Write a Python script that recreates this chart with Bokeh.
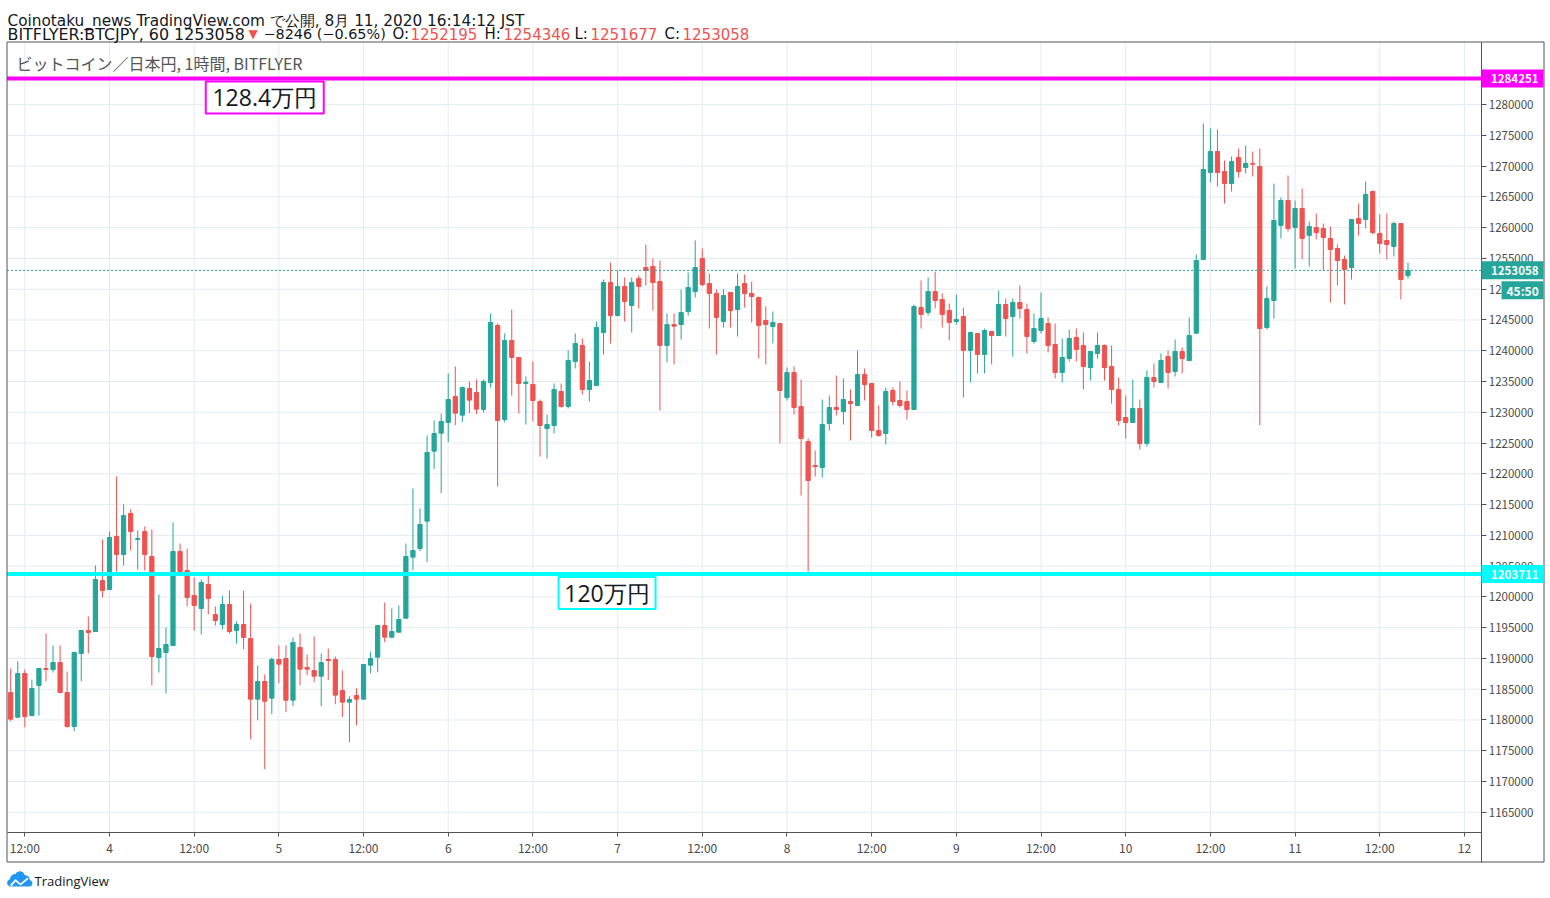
import numpy as np
import pandas as pd
from bokeh.plotting import figure
from bokeh.models import (FixedTicker, NumeralTickFormatter, Label, BoxAnnotation,
                          PolyAnnotation, ColumnDataSource, Range1d, LinearAxis)
from bokeh.embed import file_html
from bokeh.resources import INLINE

# ---------------- data (BITFLYER BTC/JPY, 1h candles) ----------------
first_bar = "2020-08-03 10:00"
opens = [1184460,1180450,1187550,1180720,1185600,1188360,1188200,1189330,1184460,1178930,
         1190800,1194530,1194370,1202660,1201200,1209810,1206890,1213550,1209320,1210620,
         1206560,1190150,1190960,1192100,1207370,1204290,1200220,1198110,1202010,1197130,
         1195510,1198760,1194530,1195510,1193230,1183380,1186250,1183540,1189820,1189980,
         1183210,1191770,1188520,1188030,1187110,1189820,1189820,1184780,1182890,1183970,
         1183380,1188900,1190200,1195350,1193450,1194260,1196540,1206450,1207860,1212300,
         1223680,1226600,1228340,1232560,1229530,1233860,1233210,1230450,1234830,1244100,
         1228820,1241660,1238900,1234670,1234510,1231750,1227360,1227850,1233370,1230930,
         1238250,1240850,1233700,1234350,1242960,1251090,1245720,1250440,1247350,1251740,
         1253520,1253690,1251250,1240850,1244260,1244260,1246370,1249620,1254990,1250920,
         1249300,1244750,1249460,1246700,1250920,1249300,1248650,1244910,1243940,1244420,
         1232400,1236460,1230940,1225250,1221350,1221020,1228170,1230770,1230120,1231750,
         1231100,1236140,1234670,1227030,1226550,1233540,1231910,1231750,1230450,1247020,
         1246210,1249620,1248320,1246540,1244750,1245560,1240040,1242800,1239390,1243120,
         1242470,1247510,1245560,1247840,1246700,1241500,1243290,1244420,1241010,1236460,
         1238740,1242150,1240850,1237270,1239550,1240850,1237440,1233700,1229150,1228330,
         1230610,1224920,1235650,1234840,1239060,1236620,1239870,1238410,1242850,1254820,
         1268960,1272370,1269120,1267170,1271400,1269770,1270420,1269940,1243770,1248160,
         1260350,1264410,1260020,1263110,1258720,1260020,1259860,1258240,1256610,1254820,
         1253520,1261490,1261320,1265870,1259050,1257910,1256940,1260670,1252195]
highs = [1188360,1189500,1188200,1186570,1188450,1194050,1192100,1192100,1187870,1191120,
         1194600,1196810,1205100,1209320,1210620,1219560,1215010,1214200,1210790,1211440,
         1210950,1200390,1195020,1212090,1208670,1207860,1203150,1202820,1203470,1198440,
         1200220,1201040,1196000,1201040,1198920,1188850,1187380,1190150,1192100,1192100,
         1193400,1194050,1190630,1193560,1190800,1191610,1190310,1188030,1183860,1185160,
         1189010,1191120,1195350,1199080,1198110,1198600,1208670,1217610,1214360,1226220,
         1228660,1229800,1236300,1237440,1234190,1235000,1235320,1235320,1246050,1244420,
         1242800,1246700,1238950,1235810,1238250,1232070,1229630,1234670,1234670,1240040,
         1242800,1241990,1238250,1244750,1251570,1254340,1253040,1251900,1251900,1252220,
         1257260,1254990,1254660,1246050,1246050,1249950,1252710,1257910,1256610,1252550,
         1249950,1249950,1249500,1252550,1252390,1251250,1248810,1247190,1246370,1244450,
         1237270,1237440,1235320,1225730,1223780,1232070,1232720,1235970,1235490,1233700,
         1240040,1237110,1234700,1231100,1234020,1234020,1235000,1233540,1247510,1251410,
         1251900,1252870,1249300,1247670,1249140,1247020,1243120,1242850,1243610,1243150,
         1249790,1248490,1248490,1250600,1247670,1246050,1249460,1245400,1244420,1241990,
         1243450,1243610,1242960,1239900,1242960,1241010,1240850,1235650,1232720,1235320,
         1232070,1236790,1237920,1239550,1240040,1241820,1240520,1245400,1255640,1276920,
         1276110,1275950,1270910,1271560,1272860,1273350,1272370,1272860,1250430,1267170,
         1264900,1268470,1264410,1266360,1261000,1262300,1260670,1260190,1257260,1255470,
         1261350,1263920,1267500,1266040,1262140,1262300,1261000,1260700,1254346]
lows = [1179800,1180300,1178830,1180600,1180720,1186300,1187710,1184400,1178770,1178180,
        1186300,1190800,1194300,1199900,1201100,1204120,1205100,1207540,1204450,1204290,
        1185600,1187710,1184300,1192000,1203740,1198440,1194530,1193880,1197130,1195350,
        1194700,1194050,1192420,1191450,1176870,1179960,1172000,1180940,1185980,1181260,
        1182240,1185650,1187280,1186140,1182240,1186460,1182560,1180450,1176390,1179150,
        1183300,1187600,1187760,1192640,1193290,1194200,1196500,1204340,1207430,1205640,
        1220750,1216850,1225140,1227900,1228390,1229850,1229690,1229960,1234020,1217930,
        1228330,1232720,1229800,1228010,1228500,1222810,1222480,1226550,1230770,1230610,
        1237110,1232880,1231750,1234300,1239390,1241170,1245560,1244750,1242960,1246860,
        1250600,1246540,1230280,1238090,1237760,1241820,1245720,1248650,1250440,1243610,
        1239390,1243770,1243770,1242310,1247020,1244590,1238740,1237760,1241170,1224920,
        1231910,1229630,1216470,1204120,1219560,1219400,1227030,1229470,1228010,1225410,
        1231050,1231910,1225900,1226060,1224760,1231100,1230770,1228820,1230400,1243610,
        1245720,1246860,1243770,1241660,1244260,1232400,1234840,1236300,1236300,1237760,
        1242420,1242310,1239060,1245240,1239550,1241170,1242800,1239710,1235490,1234840,
        1238250,1238250,1233700,1235160,1238740,1235160,1231420,1227850,1225730,1228300,
        1223950,1224430,1234020,1234800,1233860,1235810,1236300,1238380,1242800,1254800,
        1267340,1266690,1263920,1265870,1268150,1268800,1268310,1227850,1243450,1245230,
        1258240,1259370,1253360,1254820,1253680,1258070,1253030,1247830,1250600,1247510,
        1251570,1258720,1259860,1258890,1255800,1254820,1255310,1248320,1251677]
closes = [1180130,1187550,1180560,1185110,1188360,1188200,1189330,1184460,1178930,1190960,
          1194530,1194210,1202820,1201040,1209650,1206890,1213220,1210620,1209490,1206890,
          1190310,1191610,1192260,1207370,1204120,1199900,1198600,1202340,1199740,1196160,
          1198760,1194370,1195510,1193400,1183380,1186250,1183050,1189820,1189060,1183210,
          1192580,1188250,1188250,1187110,1189330,1189660,1184030,1182890,1183320,1183380,
          1189010,1189980,1195350,1193450,1194370,1196320,1206560,1207530,1211760,1223460,
          1226550,1228500,1232070,1229850,1234020,1231970,1230500,1235000,1244590,1228660,
          1241660,1238900,1234670,1234890,1231910,1227850,1228010,1233700,1230930,1238410,
          1241170,1233700,1235160,1243770,1251090,1245720,1250440,1248000,1251090,1250440,
          1253040,1251090,1240850,1244260,1243990,1246210,1250270,1253520,1250760,1249300,
          1245400,1248970,1246540,1250440,1249300,1248810,1244100,1244260,1244590,1233540,
          1236460,1230770,1225730,1218910,1221180,1228010,1230770,1230450,1232070,1231420,
          1236140,1234510,1227030,1226220,1233370,1231750,1231100,1230450,1247190,1245890,
          1249620,1248160,1245890,1244590,1245070,1240040,1242960,1239390,1243290,1242470,
          1247510,1245240,1247840,1246860,1242310,1243610,1245240,1240850,1236460,1238900,
          1241990,1240200,1237440,1239870,1240850,1237270,1233700,1228660,1228330,1230610,
          1224920,1235650,1235000,1238410,1236460,1239870,1238740,1242470,1254660,1269450,
          1272370,1268960,1267170,1270750,1269120,1270420,1270320,1243610,1248480,1261160,
          1264410,1259860,1263110,1258240,1260190,1259210,1258400,1256450,1254660,1253200,
          1261320,1260670,1265390,1259210,1257420,1257260,1260670,1251570,1253058]

tick_times = pd.date_range("2020-08-03 12:00", "2020-08-12 00:00", freq="12h")
tick_labels = ["12:00", "4", "12:00", "5", "12:00", "6", "12:00", "7", "12:00",
               "8", "12:00", "9", "12:00", "10", "12:00", "11", "12:00", "12"]
price_ticks = list(range(1165000, 1285000, 5000))

level_prices = [1284251, 1203711]
level_colors = ["#ff00ff", "#00ffff"]
level_texts = ["128.4万円", "120万円"]
level_text_times = ["2020-08-04 22:00", "2020-08-06 22:30"]

change_text = "\u22128246 (\u22120.65%)"
countdown = "45:50"
header_line1 = "Coinotaku_news TradingView.com で公開, 8月 11, 2020 16:14:12 JST"
symbol_text = "BITFLYER:BTCJPY, 60"
legend_text = "ビットコイン／日本円, 1時間, BITFLYER"

# ---------------- derived ----------------
t0 = pd.Timestamp(first_bar)
n = len(opens)
bars = np.arange(n)
o = np.array(opens); h = np.array(highs); l = np.array(lows); c = np.array(closes)
UP, DOWN = "#26a69a", "#ef5350"
colors = [UP if cc >= oo else DOWN for oo, cc in zip(o, c)]
tick_pos = [float((t - t0) / pd.Timedelta(hours=1)) for t in tick_times]
last_close = closes[-1]

src = ColumnDataSource(dict(x=bars, top=np.maximum(o, c), bottom=np.minimum(o, c),
                            high=h, low=l, color=colors))

# ---------------- layout (pixel calibration of the chart box) ----------------
W, H = 1548, 896
BAR0_PX, PX_PER_BAR = 10.2, 7.057            # screen position of first bar, bar spacing
REF_PRICE, REF_PY, PRICE_PER_PX = 1220000, 473.3, 162.5
BOX_L, BOX_R, BOX_T, BOX_B = 6.5, 1543.5, 41.5, 861.5   # outer chart box
SCALE_X, TIME_Y = 1481, 832                  # price-scale / time-scale separators


def bar_at(px):
    return (px - BAR0_PX) / PX_PER_BAR


def price_at(py):
    return REF_PRICE - (py - REF_PY) * PRICE_PER_PX


BORDER = "#50535e"
AXTEXT = "#4a4a4a"
GRID = "#e3ecf2"
INK = "#131722"

p = figure(width=W, height=H, x_range=Range1d(bar_at(0), bar_at(W)),
           y_range=Range1d(price_at(H), price_at(0)),
           output_backend="svg", toolbar_location=None, title=None,
           x_axis_location=None, y_axis_location=None,
           min_border_left=0, min_border_right=0, min_border_top=0, min_border_bottom=0,
           background_fill_color="white", border_fill_color="white",
           outline_line_color=None)
p.xgrid.visible = False
p.ygrid.visible = False

# grid lines inside the chart area
p.segment(x0=tick_pos, x1=tick_pos, y0=price_at(TIME_Y), y1=price_at(BOX_T),
          line_color=GRID, line_width=1)
p.segment(x0=bar_at(BOX_L), x1=bar_at(SCALE_X), y0=price_ticks, y1=price_ticks,
          line_color=GRID, line_width=1)

# candles
p.segment(x0="x", y0="low", x1="x", y1="high", line_color="color", line_width=1, source=src)
p.vbar(x="x", width=0.6, top="top", bottom="bottom", fill_color="color",
       line_color="color", line_width=1, source=src)

# current price dotted line
p.segment(x0=[bar_at(BOX_L)], x1=[bar_at(SCALE_X)], y0=[last_close], y1=[last_close],
          line_color=UP, line_width=1, line_dash="2 2")

# horizontal levels
for price, col in zip(level_prices, level_colors):
    p.segment(x0=[bar_at(BOX_L)], x1=[bar_at(SCALE_X)], y0=[price], y1=[price],
              line_color=col, line_width=4)

ppp = PRICE_PER_PX
for price, col, txt, tt in zip(level_prices, level_colors, level_texts, level_text_times):
    xb = float((pd.Timestamp(tt) - t0) / pd.Timedelta(hours=1))
    half_w = (59 if len(txt) > 5 else 48.5) / PX_PER_BAR
    p.add_layout(BoxAnnotation(left=xb - half_w, right=xb + half_w,
                               top=price - 3 * ppp, bottom=price - 35 * ppp,
                               fill_color="white", fill_alpha=1.0,
                               line_color=col, line_width=2, line_alpha=1.0))
    p.add_layout(Label(x=xb, y=price - 19 * ppp, text=txt, text_align="center",
                       text_baseline="middle", text_font="Open Sans",
                       text_font_size="23px", text_color=INK))

# price scale (axis fixed at the scale separator, labels to its right)
yax = LinearAxis(fixed_location=bar_at(SCALE_X), bounds=(price_at(BOX_B), price_at(BOX_T)),
                 ticker=FixedTicker(ticks=price_ticks), formatter=NumeralTickFormatter(format="0"),
                 major_tick_in=5, major_tick_out=0, minor_tick_in=0, minor_tick_out=0,
                 major_label_standoff=-52, axis_line_color=BORDER, major_tick_line_color=BORDER,
                 major_label_text_font="Noto Sans CJK JP", major_label_text_font_size="11.5px",
                 major_label_text_color=AXTEXT)
p.add_layout(yax, "left")

# time scale (axis fixed at the time separator, labels below it)
xax = LinearAxis(fixed_location=price_at(TIME_Y), bounds=(bar_at(BOX_L), bar_at(SCALE_X)),
                 ticker=FixedTicker(ticks=tick_pos),
                 major_label_overrides={tp: lab for tp, lab in zip(tick_pos, tick_labels)},
                 major_tick_in=4, major_tick_out=0, minor_tick_in=0, minor_tick_out=0,
                 major_label_standoff=-23, axis_line_color=BORDER, major_tick_line_color=BORDER,
                 major_label_text_font="Noto Sans CJK JP", major_label_text_font_size="12px",
                 major_label_text_color=AXTEXT)
p.add_layout(xax, "above")

# outer chart box
p.add_layout(BoxAnnotation(left=BOX_L, right=BOX_R, top=BOX_T, bottom=BOX_B,
                           left_units="canvas", right_units="canvas",
                           top_units="canvas", bottom_units="canvas",
                           fill_alpha=0, line_color=BORDER, line_width=1, line_alpha=1))


# price tags on the scale
def price_tag(price, col, txt):
    p.add_layout(BoxAnnotation(left=SCALE_X, right=BOX_R - 0.5, left_units="canvas",
                               right_units="canvas", top=price + 9 * ppp, bottom=price - 9 * ppp,
                               fill_color=col, fill_alpha=1.0, line_alpha=0))
    p.add_layout(Label(x=SCALE_X + 9.5, x_units="canvas", y=price, text=txt,
                       text_baseline="middle", text_align="left",
                       text_font="Noto Sans CJK JP", text_font_size="11.5px",
                       text_font_style="bold", text_color="white"))


for price, col in zip(level_prices, level_colors):
    price_tag(price, col, str(price))
price_tag(last_close, UP, str(last_close))
p.add_layout(BoxAnnotation(left=SCALE_X + 20, right=BOX_R - 0.5, top=last_close - 11 * ppp,
                           bottom=last_close - 29 * ppp, left_units="canvas",
                           right_units="canvas", fill_color=UP, fill_alpha=1.0, line_alpha=0))
p.add_layout(Label(x=SCALE_X + 25, x_units="canvas", y=last_close - 20 * ppp, text=countdown,
                   text_baseline="middle", text_font="Noto Sans CJK JP",
                   text_font_size="12px", text_font_style="bold", text_color="white"))


# header texts
def canvas_label(x, y, text, size, color, font="DejaVu Sans", baseline="alphabetic"):
    p.add_layout(Label(x=x, y=y, x_units="canvas", y_units="canvas", text=text,
                       text_font=font, text_font_size=size, text_color=color,
                       text_baseline=baseline))


canvas_label(7, 20.7, header_line1, "15.3px", INK)
line2 = [(symbol_text + " " + str(last_close), 7, INK, "15.9px"),
         ("\u25bc", 248, DOWN, "12px"),
         (change_text, 263, INK, "14.4px"),
         ("O:", 392, INK, "15px"), (str(opens[-1]), 410, DOWN, "15px"),
         ("H:", 484, INK, "15px"), (str(highs[-1]), 503, DOWN, "15px"),
         ("L:", 574, INK, "15px"), (str(lows[-1]), 590, DOWN, "15px"),
         ("C:", 664, INK, "15px"), (str(closes[-1]), 682, DOWN, "15px")]
for txt, x, col, size in line2:
    canvas_label(x, 33.7, txt, size, col)

canvas_label(16, 62, legend_text, "16px", "#555555", font="Noto Sans CJK JP", baseline="middle")

# TradingView logo
cloud_x = [9, 7, 6.5, 7.5, 9.5, 10, 11.5, 13.5, 15, 16, 18, 20, 22, 23.5, 24, 26, 28, 29,
           29.5, 31, 32, 31.5, 30]
cloud_y = [886, 884, 882, 880, 878.5, 876.5, 874.5, 873.5, 873.5, 872, 871, 870.8, 871.5,
           873, 874.5, 875, 876, 878, 879.5, 880.5, 882.5, 884.5, 886]
p.add_layout(PolyAnnotation(xs=cloud_x, ys=cloud_y, xs_units="canvas", ys_units="canvas",
                            fill_color="#2196f3", fill_alpha=1, line_alpha=0))
zz_x = [9.5, 15, 20, 27, 28, 20, 15, 11]
zz_y = [884.5, 878.5, 883, 877, 878.5, 885, 881, 886]
p.add_layout(PolyAnnotation(xs=zz_x, ys=zz_y, xs_units="canvas", ys_units="canvas",
                            fill_color="white", fill_alpha=1, line_alpha=0))
canvas_label(34, 880, "TradingView", "13px", INK, font="Open Sans", baseline="middle")

open("out.html", "w").write(file_html(p, INLINE))
